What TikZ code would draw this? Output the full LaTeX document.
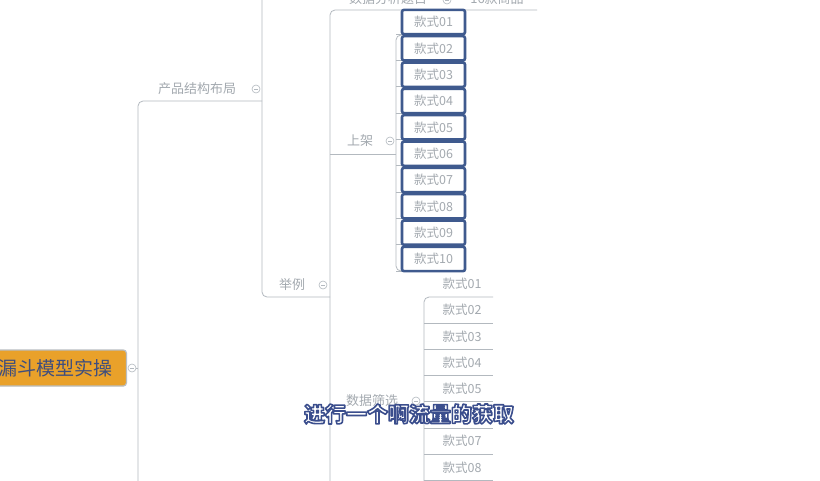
\documentclass[tikz,border=0pt]{standalone}
\usepackage{fontspec}
\newfontfamily\cjk{Noto Sans CJK SC}
\definecolor{lineg}{HTML}{B3B9BF}
\definecolor{txtg}{HTML}{A3A9AF}
\definecolor{selblue}{HTML}{3F5A8E}
\definecolor{rootor}{HTML}{E9A12A}
\definecolor{rootedge}{HTML}{B9BEC2}
\definecolor{roottxt}{HTML}{3E4E7E}
\newcommand\outlinetext[1]{\special{pdf:code q 2 Tr 1.6 w 1 j 0.231 0.306 0.553 RG}#1\special{pdf:code Q}}
\tikzset{
  conn/.style={draw=lineg, line width=0.8pt, rounded corners=5pt},
  lbl/.style={font=\cjk\fontsize{13}{13}\selectfont, text=txtg, inner sep=0pt},
  itemtxt/.style={font=\cjk\fontsize{12.5}{13}\selectfont, text=txtg, inner sep=0pt},
  selbox/.style={draw=selblue, line width=2.6pt, rounded corners=2pt, minimum width=63pt,
    minimum height=24.3pt, inner sep=0pt, font=\cjk\fontsize{12.5}{13}\selectfont, text=txtg, fill=white},
  fold/.style={circle, draw=lineg, line width=0.6pt, minimum size=8pt, inner sep=0pt,
    path picture={\draw[lineg, line width=0.6pt] ([xshift=-2pt]path picture bounding box.center)
      -- ([xshift=2pt]path picture bounding box.center);}},
  rootbox/.style={fill=rootor, draw=rootedge, line width=1.2pt, rounded corners=3pt,
    minimum height=36pt, inner xsep=14pt, inner ysep=0pt, text=roottxt,
    font=\cjk\fontsize{19}{19}\selectfont},
  subtitle/.style={inner sep=0pt, text=white, font=\cjk\bfseries\fontsize{21}{21}\selectfont},
}
\begin{document}
\begin{tikzpicture}[x=1pt,y=-1pt]
\useasboundingbox (0,0) rectangle (820,480);
\clip (0,0) rectangle (820,480);
\fill[white] (0,0) rectangle (820,480);

% coordinates of junctions
\coordinate (j0) at (138,368);
\coordinate (t1bot) at (138,495);
\coordinate (u1e) at (262,101);
\coordinate (t2top) at (262,-10);
\coordinate (u2e) at (330,297);
\coordinate (t3bot) at (330,495);
\coordinate (u3e) at (537,10);
\coordinate (j3a) at (330,154);
\coordinate (t4mid) at (396,154);
\coordinate (a01) at (402,35);
\coordinate (a10) at (402,271);
\coordinate (j3b) at (330,412);
\coordinate (j5) at (424,412);
\coordinate (s01e) at (493,297);
\coordinate (t5bot) at (424,495);

% root
\node[rootbox, anchor=east] (root) at (127,368) {漏斗模型实操};
\node[fold] (f0) at (132,368) {};

% connectors
\draw[conn] (f0.east) -- (j0);
\draw[conn] (t1bot) |- (u1e);
\draw[conn] (t2top) |- (u2e);
\draw[conn] (t3bot) |- (u3e);
\draw[conn] (j3a) -- (t4mid);
\draw[conn] (a01) -| (t4mid) |- (a10);
\draw[conn] (j3b) -- (j5);
\draw[conn] (s01e) -| (t5bot);

% level labels
\node[lbl] (p1) at (197,89) {产品结构布局};
\node[fold] (f1) at (256,89) {};
\node[lbl] (p2) at (292,285) {举例};
\node[fold] (f2) at (323,285) {};
\node[lbl] (p3) at (388,-1) {数据分析题目};
\node[fold] (f3) at (447,0) {};
\node[lbl] (p4) at (497,-1) {16款商品};
\node[lbl] (p5) at (360,141) {上架};
\node[fold] (f5) at (390,141) {};
\node[lbl] (p6) at (372,401) {数据筛选};
\node[fold] (f6) at (416,401) {};

% selected list (上架)
\foreach \i/\t in {1/01,2/02,3/03,4/04,5/05,6/06,7/07,8/08,9/09,10/10}{
  \pgfmathsetmacro\yy{22+26.33*(\i-1)}
  \coordinate (sb\i) at (396,\yy+12);
  \coordinate (sbe\i) at (402,\yy+12);
  \draw[conn] (sb\i) -- (sbe\i);
  \node[selbox] (box\i) at (433.5,\yy) {款式\t};
}

% second list (数据筛选)
\foreach \i/\t in {1/01,2/02,3/03,4/04,5/05,7/07,8/08}{
  \pgfmathsetmacro\yy{284+26.2*(\i-1)}
  \node[itemtxt] (it\i) at (462,\yy) {款式\t};
}
\foreach \i in {2,...,8}{
  \pgfmathsetmacro\yy{297+26.2*(\i-1)}
  \coordinate (ul\i) at (424,\yy);
  \coordinate (ule\i) at (493,\yy);
  \draw[conn] (ul\i) -- (ule\i);
}

% subtitle
\node[subtitle] (sub) at (409,414) {\outlinetext{进行一个啊流量的获取}};
\end{tikzpicture}
\end{document}
